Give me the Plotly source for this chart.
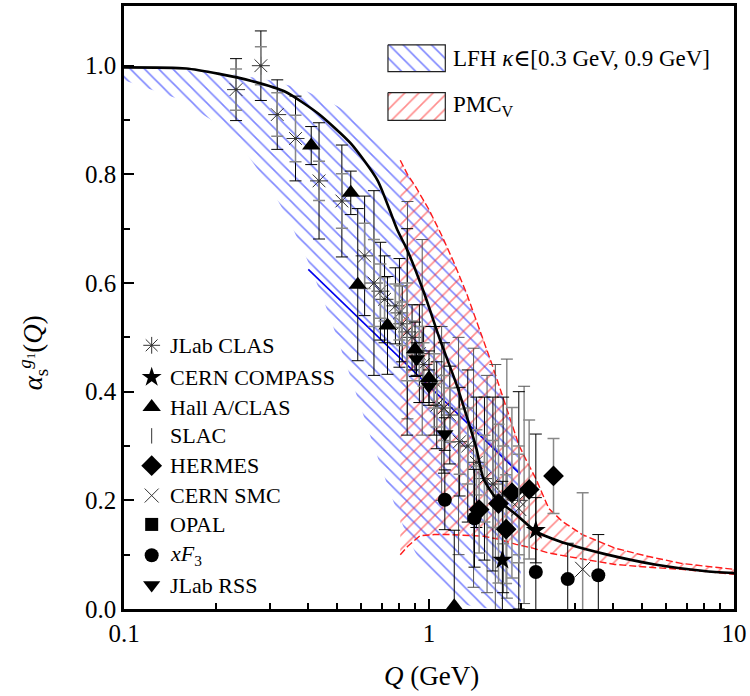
import plotly.graph_objects as go

# ---------------- data ----------------
# LFH band (kappa in [0.3, 0.9] GeV), Q < 2 GeV
lfh_q = [0.1, 0.15, 0.2, 0.25, 0.3, 0.35, 0.4, 0.45, 0.5, 0.55, 0.6, 0.65, 0.7, 0.75,
         0.8, 0.85, 0.9, 0.95, 1.0, 1.1, 1.2, 1.3, 1.4, 1.5, 1.6, 1.7, 1.8, 1.9, 2.0]
lfh_low = [0.973, 0.939, 0.895, 0.841, 0.779, 0.712, 0.641, 0.570, 0.499, 0.432, 0.368, 0.309,
           0.256, 0.210, 0.169, 0.134, 0.105, 0.082, 0.062, 0.035, 0.018, 0.009, 0.004, 0.002,
           0.001, 0.0, 0.0, 0.0, 0.0]
lfh_up = [0.997, 0.993, 0.988, 0.981, 0.973, 0.963, 0.952, 0.939, 0.926, 0.911, 0.895, 0.878,
          0.860, 0.841, 0.821, 0.800, 0.779, 0.757, 0.735, 0.688, 0.641, 0.594, 0.546, 0.500,
          0.454, 0.410, 0.368, 0.328, 0.291]

# PMC_V band
pmc_q_up = [0.805, 0.85, 0.9, 0.963, 1.0, 1.1, 1.2, 1.33, 1.5, 1.6, 1.7, 1.8, 1.9, 1.97,
            2.1, 2.24, 2.47, 2.74, 3.18, 4.07, 5.21, 6.71, 8.6, 10.0]
pmc_up = [0.826, 0.800, 0.779, 0.751, 0.735, 0.688, 0.641, 0.580, 0.500, 0.454, 0.410, 0.368,
          0.328, 0.302, 0.270, 0.240, 0.185, 0.161, 0.137, 0.112, 0.097, 0.084, 0.077, 0.073]
pmc_q_low = [0.805, 0.85, 0.935, 1.04, 1.17, 1.33, 1.51, 1.70, 1.93, 2.19, 2.47, 3.18, 4.07,
             5.21, 6.71, 10.0]
pmc_low = [0.100, 0.115, 0.135, 0.137, 0.137, 0.136, 0.134, 0.128, 0.119, 0.112, 0.103, 0.092,
           0.082, 0.077, 0.073, 0.064]

# central black curve
curve_q = [0.1, 0.16, 0.205, 0.262, 0.338, 0.433, 0.554, 0.678, 0.787, 0.848, 0.963, 1.086,
           1.233, 1.431, 1.508, 1.662, 1.93, 2.24, 2.87, 3.78, 5.5, 7.98, 10.0]
curve_v = [0.997, 0.995, 0.985, 0.972, 0.952, 0.912, 0.857, 0.789, 0.698, 0.661, 0.582, 0.496,
           0.412, 0.295, 0.240, 0.203, 0.174, 0.143, 0.119, 0.101, 0.082, 0.070, 0.066]

# dark hatch line inside the LFH band
lfh_edge_q = [0.402, 1.974]
lfh_edge_v = [0.625, 0.250]

# experimental data
clas_q = [0.233, 0.281, 0.318, 0.365, 0.436, 0.518, 0.615, 0.66, 0.693, 0.715, 0.776, 0.80,
          0.817, 0.848, 0.88, 0.93, 0.96, 1.04, 1.06, 1.12, 1.17, 1.26, 1.34, 1.43, 1.52, 1.62,
          1.75, 1.97]
clas_v = [0.956, 1.000, 0.910, 0.866, 0.788, 0.751, 0.650, 0.60, 0.585, 0.57, 0.558, 0.545,
          0.525, 0.51, 0.50, 0.47, 0.45, 0.42, 0.375, 0.37, 0.357, 0.308, 0.30, 0.27, 0.24, 0.23,
          0.21, 0.20]
clas_err_tot = [0.057, 0.064, 0.064, 0.078, 0.107, 0.103, 0.11, 0.17, 0.09, 0.08, 0.07, 0.10,
                0.07, 0.19, 0.06, 0.09, 0.07, 0.10, 0.08, 0.12, 0.09, 0.10, 0.14, 0.12, 0.15,
                0.16, 0.18, 0.20]
clas_err_stat = [0.038, 0.035, 0.04, 0.043, 0.036, 0.05, 0.06, 0.08, 0.05, 0.04, 0.04, 0.05,
                 0.04, 0.09, 0.03, 0.05, 0.04, 0.05, 0.04, 0.06, 0.05, 0.06, 0.07, 0.06, 0.08,
                 0.08, 0.09, 0.10]

halla_q = [0.411, 0.554, 0.584, 0.731, 0.90, 1.0, 1.21]
halla_v = [0.853, 0.766, 0.597, 0.522, 0.478, 0.425, 0.005]
halla_err = [0.035, 0.04, 0.14, 0.09, 0.05, 0.05, 0.14]

rss_q = [0.91, 1.0, 1.127]
rss_v = [0.46, 0.41, 0.322]
rss_err = [0.03, 0.03, 0.03]

slac_q = [0.85, 0.95, 1.1, 1.25, 1.4, 1.55, 1.65, 1.8, 2.05]
slac_v = [0.55, 0.50, 0.36, 0.30, 0.26, 0.23, 0.20, 0.24, 0.21]
slac_err = [0.20, 0.18, 0.16, 0.20, 0.22, 0.20, 0.25, 0.22, 0.20]

hermes_q = [1.46, 1.69, 1.87, 2.13, 2.56, 1.79]
hermes_v = [0.183, 0.194, 0.214, 0.220, 0.245, 0.147]
hermes_err = [0.08, 0.146, 0.157, 0.128, 0.069, 0.10]

xf3_q = [1.127, 1.41, 2.24, 2.85, 3.59]
xf3_v = [0.201, 0.167, 0.068, 0.055, 0.062]
xf3_err = [0.055, 0.09, 0.254, 0.066, 0.075]

compass_q = [1.74, 2.24]
compass_v = [0.09, 0.145]
compass_err = [0.145, 0.06]

smc_q = [1.97, 3.19]
smc_v = [0.185, 0.073]
smc_err = [0.10, 0.141]

# legends
legend_labels = ["JLab CLAS", "CERN COMPASS", "Hall A/CLAS", "SLAC", "HERMES", "CERN SMC",
                 "OPAL", "<i>xF</i><sub>3</sub>", "JLab RSS"]
legend_symbols = ["asterisk-open", "star", "triangle-up", "line-ns-open", "diamond",
                  "x-thin-open", "square", "circle", "triangle-down"]
band_labels = ["LFH <i>κ</i>∈[0.3 GeV, 0.9 GeV]", "PMC<sub>V</sub>"]

# ---------------- figure ----------------
W, H = 750, 696
L, R, T, B = 124, 9, 3, 87
PW, PH = W - L - R, H - T - B

def px(xp):
    return (xp - L) / PW

def py(yp):
    return (H - B - yp) / PH

FONT = "Liberation Serif, DejaVu Serif, serif"
BLUE = "#0010ff"
RED = "#ff1a1a"

fig = go.Figure()

# LFH band
fig.add_trace(go.Scatter(
    x=lfh_q + lfh_q[::-1], y=lfh_low + lfh_up[::-1], fill="toself", mode="lines",
    line=dict(width=0, color="rgba(0,0,0,0)"), fillcolor="rgba(0,0,0,0)",
    fillpattern=dict(shape="\\", fgcolor=BLUE, bgcolor="rgba(0,0,0,0)", size=10, solidity=0.16),
    hoverinfo="skip", showlegend=False))
fig.add_trace(go.Scatter(x=lfh_edge_q, y=lfh_edge_v, mode="lines",
                         line=dict(color="#0000ee", width=1.6), showlegend=False, hoverinfo="skip"))

# PMC band (hatched fill, then dashed outline on upper and lower edges)
fig.add_trace(go.Scatter(
    x=pmc_q_low + pmc_q_up[::-1], y=pmc_low + pmc_up[::-1],
    fill="toself", mode="lines", line=dict(width=0, color="rgba(0,0,0,0)"),
    fillcolor="rgba(0,0,0,0)",
    fillpattern=dict(shape="/", fgcolor=RED, bgcolor="rgba(0,0,0,0)", size=10, solidity=0.16),
    hoverinfo="skip", showlegend=False))
for qq, vv in [(pmc_q_up, pmc_up), (pmc_q_low, pmc_low)]:
    fig.add_trace(go.Scatter(x=qq, y=vv, mode="lines", line=dict(width=1.4, color=RED, dash="7px,3px"),
                             hoverinfo="skip", showlegend=False))

def series(q, v, err, symbol, size, ecolor="black", mcolor="black", lw=0, ewidth=6, thick=1):
    fig.add_trace(go.Scatter(
        x=q, y=v, mode="markers",
        marker=dict(symbol=symbol, size=size, color=mcolor,
                    line=dict(width=lw, color=mcolor)),
        error_y=dict(type="data", array=err, visible=True, color=ecolor,
                     thickness=thick, width=ewidth),
        showlegend=False, hoverinfo="skip"))

# data series
series(slac_q, slac_v, slac_err, "line-ns-open", 8, ecolor="#555555", mcolor="#333333", lw=1)
fig.add_trace(go.Scatter(
    x=clas_q, y=clas_v, mode="markers",
    marker=dict(symbol="asterisk-open", size=15, color="#333333", line=dict(width=1, color="#333333")),
    error_y=dict(type="data", array=clas_err_tot, visible=True, color="black", thickness=1, width=6),
    showlegend=False, hoverinfo="skip"))
fig.add_trace(go.Scatter(
    x=clas_q, y=clas_v, mode="markers", marker=dict(size=3, color="#333333"),
    error_y=dict(type="data", array=clas_err_stat, visible=True, color="#888888", thickness=1.5, width=6),
    showlegend=False, hoverinfo="skip"))
series(hermes_q, hermes_v, hermes_err, "diamond", 16, ecolor="#888888", thick=1.5)
series(smc_q, smc_v, smc_err, "x-thin-open", 15, ecolor="#888888", mcolor="#222222", lw=1, thick=1.5)
series(xf3_q, xf3_v, xf3_err, "circle", 14)
series(compass_q, compass_v, compass_err, "star", 15)
series(halla_q, halla_v, halla_err, "triangle-up", 16)
series(rss_q, rss_v, rss_err, "triangle-down", 15)

# central curve
fig.add_trace(go.Scatter(x=curve_q, y=curve_v, mode="lines", line=dict(color="black", width=2.6,
                                                                       shape="spline", smoothing=0.6),
                         showlegend=False, hoverinfo="skip"))

# ---------------- custom legends on an overlay axis (paper-like 0..1) ----------------
leg_y = [344, 376, 406, 435, 465, 495, 524, 555, 585]
leg_x = 152
leg_sizes = [14, 15, 16, 11, 16, 14, 13, 14, 15]
for sym, yy, sz in zip(legend_symbols, leg_y, leg_sizes):
    lw = 1 if sym.endswith("open") else 0
    col = "#333333" if sym.endswith("open") else "black"
    fig.add_trace(go.Scatter(x=[px(leg_x)], y=[py(yy)], xaxis="x2", yaxis="y2", mode="markers",
                             marker=dict(symbol=sym, size=sz, color=col, line=dict(width=lw, color=col)),
                             showlegend=False, hoverinfo="skip", cliponaxis=False))
for lab, yy in zip(legend_labels, leg_y):
    fig.add_annotation(x=px(168), y=py(yy), xref="paper", yref="paper", text=lab, showarrow=False,
                       xanchor="left", yanchor="middle", font=dict(family=FONT, size=22, color="black"))

# band legend boxes
box_x0, box_x1 = 391, 449
for (y0, y1), pat, col, lab in zip([(42, 69), (90, 118)], ["\\", "/"], [BLUE, RED], band_labels):
    fig.add_trace(go.Scatter(
        x=[px(box_x0), px(box_x1), px(box_x1), px(box_x0), px(box_x0)],
        y=[py(y0), py(y0), py(y1), py(y1), py(y0)], xaxis="x2", yaxis="y2",
        fill="toself", mode="lines", line=dict(color="#222222", width=1.2), fillcolor="rgba(0,0,0,0)",
        fillpattern=dict(shape=pat, fgcolor=col, bgcolor="rgba(0,0,0,0)", size=10, solidity=0.16),
        showlegend=False, hoverinfo="skip"))
    fig.add_annotation(x=px(455), y=py((y0 + y1) / 2), xref="paper", yref="paper", text=lab,
                       showarrow=False, xanchor="left", yanchor="middle",
                       font=dict(family=FONT, size=23, color="black"))

# axis titles
fig.add_annotation(x=px(435), y=py(676), xref="paper", yref="paper", text="<i>Q</i> (GeV)",
                   showarrow=False, xanchor="center", yanchor="middle",
                   font=dict(family=FONT, size=27, color="black"))
fig.add_annotation(x=px(32), y=py(352), xref="paper", yref="paper",
                   text="<i>α</i><sub>s</sub><sup><i>g</i><sub>1</sub></sup>(<i>Q</i>)",
                   showarrow=False, textangle=-90, xanchor="center", yanchor="middle",
                   font=dict(family=FONT, size=27, color="black"))

minor_x = [0.2, 0.3, 0.4, 0.5, 0.6, 0.7, 0.8, 0.9, 2, 3, 4, 5, 6, 7, 8, 9]
fig.update_layout(
    width=W, height=H, margin=dict(l=L, r=R, t=T, b=B),
    paper_bgcolor="white", plot_bgcolor="rgba(0,0,0,0)", showlegend=False,
    font=dict(family=FONT, size=25, color="black"),
    xaxis=dict(type="log", range=[-1, 1], tickvals=[0.1, 1, 10], ticktext=["0.1", "1", "10"],
               ticks="inside", ticklen=10, tickwidth=2, tickcolor="black", ticklabeloverflow="allow",
               minor=dict(tickvals=minor_x, ticks="inside", ticklen=6, tickwidth=1.5, tickcolor="black"),
               showline=True, linewidth=2.5, linecolor="black", mirror=True,
               showgrid=False, zeroline=False, tickfont=dict(size=25, family=FONT)),
    yaxis=dict(range=[0, PH / 546], tickvals=[0, 0.2, 0.4, 0.6, 0.8, 1.0],
               ticktext=["0.0", "0.2", "0.4", "0.6", "0.8", "1.0"],
               ticks="inside", ticklen=10, tickwidth=2, tickcolor="black", ticklabeloverflow="allow",
               minor=dict(tickvals=[0.1, 0.3, 0.5, 0.7, 0.9], ticks="inside", ticklen=6,
                          tickwidth=1.5, tickcolor="black"),
               showline=True, linewidth=2.5, linecolor="black", mirror=True,
               showgrid=False, zeroline=False, tickfont=dict(size=25, family=FONT)),
    xaxis2=dict(overlaying="x", range=[0, 1], visible=False, anchor="y2"),
    yaxis2=dict(overlaying="y", range=[0, 1], visible=False, anchor="x2"),
)

fig.write_html("out.html")
